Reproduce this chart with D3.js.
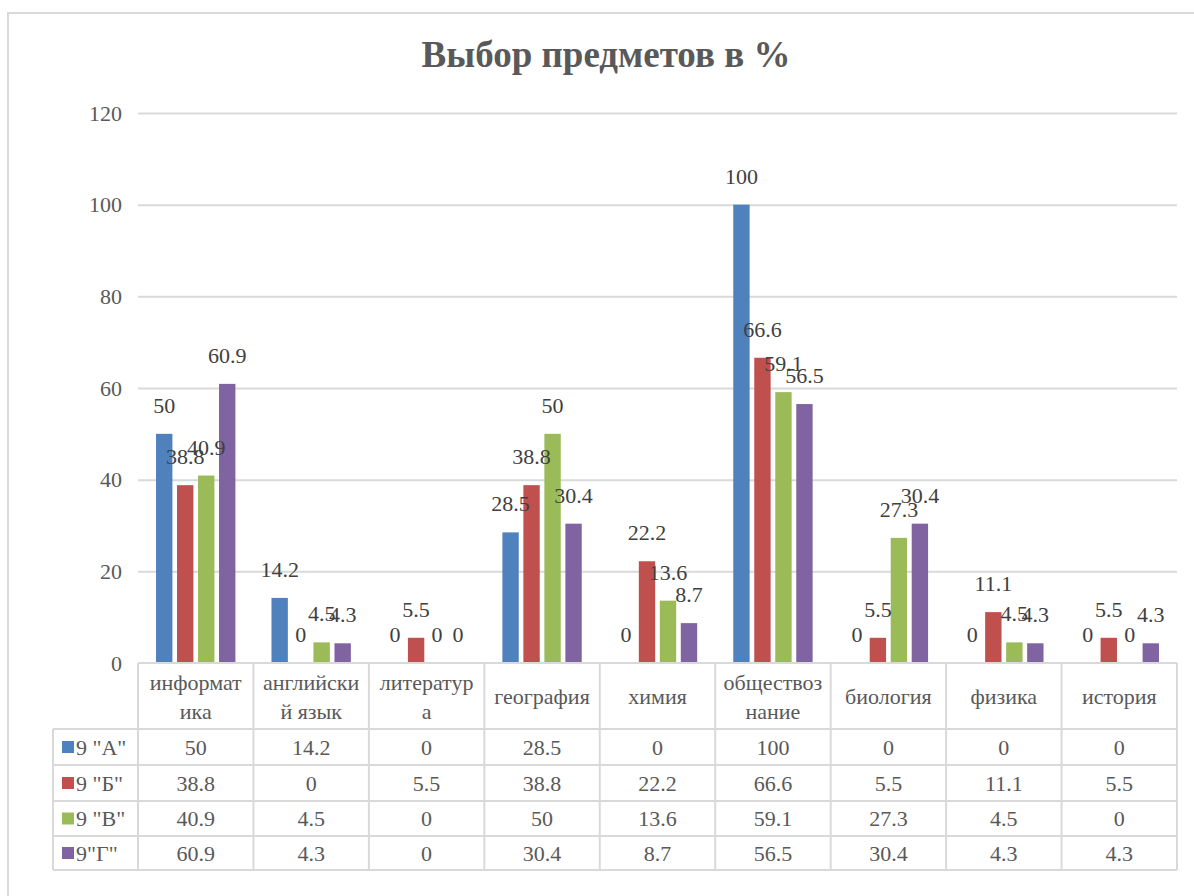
<!DOCTYPE html>
<html>
<head>
<meta charset="utf-8">
<script src="https://cdn.jsdelivr.net/npm/d3@7"></script>
<style>
  body { margin: 0; background: #fff; }
  svg text { font-family: "Liberation Serif", "DejaVu Serif", serif; }
</style>
</head>
<body>
<div id="chart"></div>
<script>
// chart data
var categories = ["информатика", "английский язык", "литература", "география", "химия",
                  "обществознание", "биология", "физика", "история"];
// header labels as they wrap in the table
var categoryLines = [["информат", "ика"], ["английски", "й язык"], ["литератур", "а"], ["география"],
                     ["химия"], ["обществоз", "нание"], ["биология"], ["физика"], ["история"]];
var seriesNames = ['9 "А"', '9 "Б"', '9 "В"', '9"Г"'];
var seriesA = [50, 14.2, 0, 28.5, 0, 100, 0, 0, 0];
var seriesB = [38.8, 0, 5.5, 38.8, 22.2, 66.6, 5.5, 11.1, 5.5];
var seriesV = [40.9, 4.5, 0, 50, 13.6, 59.1, 27.3, 4.5, 0];
var seriesG = [60.9, 4.3, 0, 30.4, 8.7, 56.5, 30.4, 4.3, 4.3];
var yTicks = [0, 20, 40, 60, 80, 100, 120];
var colors = ["#4F81BD", "#C0504D", "#9BBB59", "#8064A2"];

(function() {
  var allSeries = [seriesA, seriesB, seriesV, seriesG];

  var W = 1194, H = 896;
  var svg = d3.select("#chart").append("svg").attr("width", W).attr("height", H);

  // outer frame
  svg.append("rect").attr("x", 8).attr("y", 13).attr("width", 1200).attr("height", 900)
    .attr("fill", "#fff").attr("stroke", "#d9d9d9").attr("stroke-width", 2);

  // title
  svg.append("text").attr("x", 606).attr("y", 67).attr("text-anchor", "middle")
    .attr("font-size", 37).attr("font-weight", "bold").attr("fill", "#595959")
    .text("Выбор предметов в %");

  var plotL = 138, plotR = 1177, plotT = 113, base = 663;
  var x0 = d3.scaleBand().domain(categories).range([plotL, plotR]).padding(0);
  var x1 = d3.scaleBand().domain(seriesNames).range([-42, 42]).paddingInner(0.22).paddingOuter(0.11);
  var y = d3.scaleLinear().domain([0, 120]).range([base, plotT]);

  // gridlines and y labels
  var yAxis = d3.axisLeft(y).tickValues(yTicks).tickSize(-(plotR - plotL)).tickPadding(16);
  var gy = svg.append("g").attr("transform", "translate(" + plotL + ",0)").call(yAxis);
  gy.attr("font-family", null).attr("font-size", null);
  gy.select(".domain").remove();
  gy.selectAll(".tick line").attr("stroke", "#d9d9d9").attr("stroke-width", 2)
    .attr("display", function(d) { return d === 0 ? "none" : null; });
  gy.selectAll(".tick text").attr("font-size", 22).attr("fill", "#595959").attr("dy", "0.32em");

  // bars
  var groups = svg.append("g").selectAll("g").data(allSeries).join("g")
    .attr("fill", function(d, i) { return colors[i]; });

  groups.each(function(vals, si) {
    d3.select(this).selectAll("rect").data(vals).join("rect")
      .attr("x", function(v, ci) { return x0(categories[ci]) + x0.bandwidth() / 2 + x1(seriesNames[si]); })
      .attr("width", x1.bandwidth())
      .attr("y", function(v) { return y(v); })
      .attr("height", function(v) { return base - y(v); });
  });

  // data labels
  var labels = svg.append("g");
  allSeries.forEach(function(vals, si) {
    labels.append("g").selectAll("text").data(vals).join("text")
      .attr("x", function(v, ci) { return x0(categories[ci]) + x0.bandwidth() / 2 + x1(seriesNames[si]) + x1.bandwidth() / 2; })
      .attr("y", function(v) { return y(v) - 21; })
      .attr("text-anchor", "middle").attr("font-size", 22).attr("fill", "#404040")
      .text(function(v) { return v; });
  });

  // data table
  var rowTops = [729, 765, 801, 836, 870];
  var tableL = 53;
  var grid = svg.append("g").attr("stroke", "#d9d9d9").attr("stroke-width", 2);
  grid.append("line").attr("x1", plotL).attr("x2", plotR).attr("y1", base).attr("y2", base);
  rowTops.forEach(function(ry) {
    grid.append("line").attr("x1", tableL).attr("x2", plotR).attr("y1", ry).attr("y2", ry);
  });
  grid.append("line").attr("x1", tableL).attr("x2", tableL).attr("y1", rowTops[0]).attr("y2", rowTops[4]);
  categories.concat([null]).forEach(function(c) {
    var xx = c === null ? plotR : x0(c);
    grid.append("line").attr("x1", xx).attr("x2", xx).attr("y1", base).attr("y2", rowTops[4]);
  });

  // header labels
  categoryLines.forEach(function(lines, ci) {
    var cx = x0(categories[ci]) + x0.bandwidth() / 2;
    var t = svg.append("text").attr("text-anchor", "middle").attr("font-size", 22).attr("fill", "#595959");
    var startY = lines.length === 2 ? 690 : 704;
    lines.forEach(function(l, li) {
      t.append("tspan").attr("x", cx).attr("y", startY + li * 29).text(l);
    });
  });

  // rows with legend keys
  allSeries.forEach(function(vals, si) {
    var cy = (rowTops[si] + rowTops[si + 1]) / 2;
    svg.append("rect").attr("x", 62).attr("y", cy - 6).attr("width", 12).attr("height", 12).attr("fill", colors[si]);
    svg.append("text").attr("x", 76).attr("y", cy + 7.5).attr("font-size", 22).attr("fill", "#595959")
      .text(seriesNames[si]);
    vals.forEach(function(v, ci) {
      svg.append("text").attr("x", x0(categories[ci]) + x0.bandwidth() / 2).attr("y", cy + 7.5)
        .attr("text-anchor", "middle").attr("font-size", 22).attr("fill", "#595959").text(v);
    });
  });
})();
</script>
</body>
</html>
